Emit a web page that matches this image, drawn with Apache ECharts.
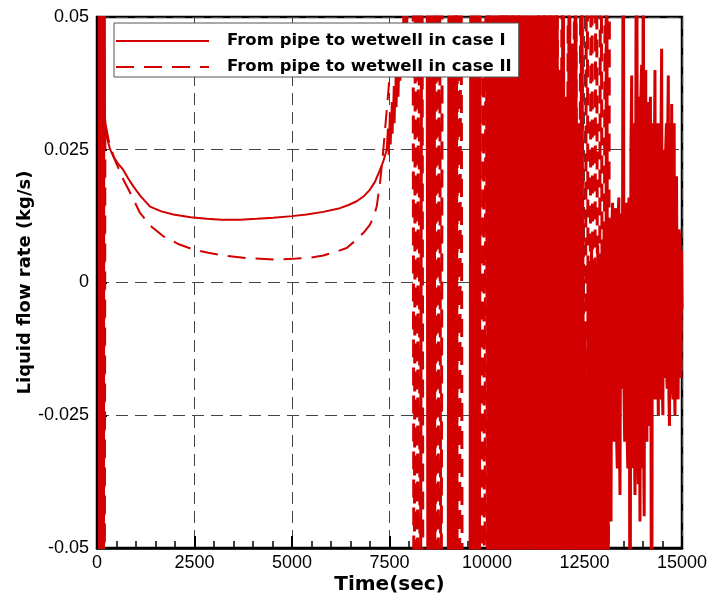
<!DOCTYPE html>
<html><head><meta charset="utf-8">
<script src="https://cdn.jsdelivr.net/npm/echarts@6/dist/echarts.min.js"></script>
<style>html,body{margin:0;padding:0;background:#fff}#c{width:711px;height:600px}</style>
</head><body><div id="c"></div>
<script>
// ---- data (time in s, liquid flow rate in kg/s) ----
const nameI = 'From pipe to wetwell in case I';
const nameII = 'From pipe to wetwell in case II';

const caseI_start = [[40,0.1],[55,-0.1],[70,0.1],[85,-0.1],[100,0.1],[115,-0.1],[130,0.1],[145,-0.1],[160,0.1],[175,-0.1],[190,0.1]];
const caseI_curve = [[190,0.1],[205,0.031],[248,0.0275],[330,0.0252],[419,0.0237],[540,0.0224],[675,0.0212],[800,0.0196],[932,0.0181],[1100,0.0164],[1360,0.0143],[1650,0.0134],[1957,0.0128],[2400,0.0123],[2812,0.012],[3200,0.0118],[3667,0.0118],[4100,0.012],[4520,0.0122],[5000,0.0125],[5376,0.0128],[5800,0.0133],[6230,0.014],[6450,0.0146],[6658,0.0153],[6850,0.0163],[7000,0.0175],[7130,0.019],[7256,0.0212],[7340,0.0228],[7428,0.025],[7460,0.029],[7480,0.024],[7510,0.032],[7530,0.026],[7560,0.034],[7580,0.028],[7610,0.037],[7630,0.030],[7660,0.039],[7680,0.033],[7710,0.042],[7730,0.035],[7760,0.045],[7780,0.038],[7810,0.048],[7830,0.041],[7860,0.052],[7880,0.044],[7920,0.056],[7950,0.048],[8000,0.06],[8100,0.1]];
const caseI_burst = [[8100,0.1],[8460,0.1],
[8490,-0.1],[8520,0.1],[8550,-0.1],[8580,0.1],[8610,-0.1],[8640,0.1],[8670,-0.1],[9000,-0.1],
[9030,0.1],[9060,-0.1],[9090,0.1],[9120,-0.1],[9150,0.1],[9180,-0.1],[9210,0.1],[9240,-0.1],[9560,-0.1],
[9590,0.1],[9620,-0.1],[9650,0.1],[9680,-0.1],[9710,0.1],[9740,-0.1],[9770,0.1],[9800,-0.1],[9830,0.1],[10030,0.1],
[10070,-0.1],[10110,0.1],[10150,-0.1],[10190,0.1],[10230,-0.1],[10270,0.1],[10310,-0.1],[10350,0.1],[10390,-0.1],[10430,0.1],
[10470,-0.1],[10510,0.1],[10550,-0.1],[10590,0.1],[10630,-0.1],[10670,0.1],[10710,-0.1],[10750,0.1],[10790,-0.1],[10830,0.1],
[10870,-0.1],[10910,0.1],[10950,-0.1],[10990,0.1],[11030,-0.1],[11070,0.1],[11110,-0.1],[11150,0.1],[11190,-0.1],[11230,0.1],
[11270,-0.1],[11310,0.1],[11350,-0.1],[11390,0.1],[11430,-0.1],[11470,0.1],[11510,-0.1],[11550,0.1],[11590,-0.1],[11630,0.1],
[11670,-0.1],[11710,0.1],[11750,-0.1],[11790,0.1],[11830,-0.1],[11870,0.04],[11910,-0.1],[11950,0.1],[11990,-0.1],[12030,0.035],
[12070,-0.1],[12110,0.1],[12150,-0.1],[12190,0.045],[12230,-0.1],[12270,0.1],[12310,-0.1],[12350,0.03],[12390,-0.1],[12430,0.1],
[12470,-0.1],[12510,-0.01],[12560,-0.1],[12600,0.004],[12640,-0.1],[12680,0.008],[12720,-0.08],[12760,0.002],[12800,-0.1],[12840,0.007],
[12880,-0.06],[12920,0.005],[12960,-0.1],[13000,0.01],[13040,-0.1],[13068,0.1],[13100,-0.1],[13120,0.006],[13140,0.012],[13160,-0.03],[13180,-0.045],[13200,0.01],[13220,0.015],
[13240,-0.025],[13260,-0.03],[13280,0.01],[13300,0.014],[13320,-0.028],[13340,-0.035],[13360,0.012],[13380,0.016],[13395,-0.03],[13410,-0.04],[13430,0.01],[13450,0.013],[13470,-0.02],[13495,0.1],[13512,-0.02],[13530,-0.03],[13550,0.012],[13570,0.015],[13590,-0.028],[13610,-0.035],
[13625,0.012],[13640,0.016],[13655,-0.03],[13667,-0.1],[13690,0.025],[13710,0.039],[13720,-0.03],[13730,0.02],[13740,-0.035],[13752,0.03],[13770,-0.025],[13795,-0.04],[13815,0.03],[13838,0.1],[13860,-0.03],[13880,-0.038],[13890,0.03],[13900,0.035],[13912,-0.03],[13923,-0.045],
[13945,0.035],[13966,0.041],[13978,-0.025],[13990,-0.035],[14000,0.035],[14008,0.1],[14020,-0.035],[14030,-0.044],[14050,0.03],[14070,0.04],[14085,-0.025],[14100,-0.03],[14118,0.03],[14136,0.034],[14148,-0.025],[14160,-0.027],[14175,0.028],[14190,0.035],[14205,-0.025],[14222,-0.1],
[14243,0.03],[14264,0.02],[14277,-0.02],[14290,-0.022],[14298,0.03],[14307,0.04],[14323,-0.02],[14340,-0.022],[14355,0.028],[14370,0.03],[14382,-0.018],[14393,-0.025],[14407,0.025],[14420,0.03],[14435,-0.02],[14450,-0.022],[14464,0.03],[14478,0.044],[14494,-0.02],[14510,-0.025],
[14525,0.025],[14540,0.02],[14552,-0.018],[14564,-0.012],[14582,0.025],[14600,0.03],[14610,-0.018],[14620,-0.02],[14635,0.03],[14649,0.039],[14665,-0.022],[14680,-0.027],[14695,0.025],[14710,0.03],[14722,-0.018],[14735,0.0336],[14752,-0.02],[14770,-0.022],[14785,0.022],[14800,0.03],
[14810,-0.02],[14820,-0.025],[14840,0.015],[14860,0.02],[14880,-0.02],[14900,-0.022],[14925,0.01],[14948,0.008],[14960,-0.015],[14970,-0.018],[14985,0.006],[15000,-0.005]];

const caseII_start = [[45,-0.1],[60,0.1],[75,-0.1],[90,0.1],[105,-0.1],[120,0.1],[135,-0.1],[150,0.1],[165,-0.1],[180,0.1],[195,-0.1]];
const caseII_curve = [[195,-0.1],[215,0.030],[300,0.0268],[450,0.0232],[675,0.0194],[850,0.0169],[1103,0.0131],[1400,0.0105],[1700,0.0087],[2100,0.0072],[2470,0.0062],[2850,0.0056],[3240,0.0051],[3838,0.0046],[4607,0.0043],[5120,0.0045],[5500,0.0047],[5803,0.0051],[6100,0.0057],[6402,0.0065],[6658,0.0081],[6850,0.0095],[7000,0.0109],[7100,0.0125],[7171,0.0143],[7256,0.0187],[7330,0.024],[7400,0.030],[7470,0.036],[7540,0.042],[7620,0.050],[7700,0.07],[8100,0.1]];
const caseII_burst = [[8100,0.1],[8130,-0.1],[8170,0.1],[8210,-0.1],[8250,0.1],[8290,-0.1],[8330,0.1],[8360,-0.1],[8670,-0.1],
[8700,0.1],[8740,-0.1],[8780,0.1],[8820,-0.1],[8860,0.1],[9180,0.1],[9210,-0.1],[9250,0.1],[9290,-0.1],[9330,0.1],[9370,-0.1],[9870,-0.1],
[9900,0.1],[9940,-0.1],[9980,0.1],[10020,-0.1],[10060,0.1],[10260,0.1],[10300,-0.1],[10340,0.1],[10380,-0.1],[10420,0.1],[10460,-0.1],[10500,0.1],
[10580,-0.1],[10660,0.1],[10740,-0.1],[10820,0.1],[10900,-0.1],[10980,0.1],[11060,-0.1],[11140,0.1],[11220,-0.1],[11300,0.1],[11380,-0.1],
[11460,0.1],[11540,-0.1],[11620,0.1],[11700,-0.1],[11780,0.1],[11860,-0.1],[11940,0.1],[12020,-0.1],[12100,0.1],[12180,-0.1],[12260,0.1],
[12340,-0.1],[12420,0.1],[12500,-0.1],[12560,0.1],[12620,-0.1],[12680,0.1],[12740,-0.1],[12800,0.1],[12860,-0.1],[12920,0.1],[12980,-0.1],
[13040,0.1],[13100,-0.1],[13150,0.1]];

const xMin = 0, xMax = 15000, xStep = 2500;
const yMin = -0.05, yMax = 0.05, yStep = 0.025;

// ---- chart ----
const RED = '#d20000';
const chart = echarts.init(document.getElementById('c'), null, {renderer: 'canvas'});
const gridLine = {show: true, lineStyle: {color: '#444', width: 1, type: [12, 7]}};
const base = {type: 'line', symbol: 'none', showSymbol: false, clip: true, itemStyle: {color: RED}};
chart.setOption({
  animation: false,
  backgroundColor: '#fff',
  grid: {left: 97, right: 29, top: 17, bottom: 52, show: true, borderColor: '#000', borderWidth: 2.5, backgroundColor: 'transparent'},
  xAxis: {
    type: 'value', min: xMin, max: xMax, interval: xStep,
    name: 'Time(sec)', nameLocation: 'middle', nameGap: 27, nameMoveOverlap: false,
    nameTextStyle: {fontFamily: 'DejaVu Sans', fontWeight: 'bold', fontSize: 20, color: '#000'},
    axisLine: {onZero: false, lineStyle: {color: '#000', width: 2.5}},
    axisTick: {inside: true, length: 12, lineStyle: {color: '#000', width: 2}},
    minorTick: {show: true, splitNumber: 5, length: 7, lineStyle: {color: '#000', width: 1.5}},
    axisLabel: {fontFamily: 'Liberation Sans', fontSize: 18, color: '#000', margin: 6, formatter: v => String(v)},
    splitLine: gridLine
  },
  yAxis: {
    type: 'value', min: yMin, max: yMax, interval: yStep,
    name: 'Liquid flow rate (kg/s)', nameLocation: 'middle', nameGap: 63, nameMoveOverlap: false,
    nameTextStyle: {fontFamily: 'DejaVu Sans', fontWeight: 'bold', fontSize: 18, color: '#000'},
    axisLine: {onZero: false, lineStyle: {color: '#000', width: 2.5}},
    axisTick: {inside: true, length: 10, lineStyle: {color: '#000', width: 2}},
    minorTick: {show: true, splitNumber: 5, length: 6, lineStyle: {color: '#000', width: 1.5}},
    axisLabel: {fontFamily: 'Liberation Sans', fontSize: 18, color: '#000', margin: 8},
    splitLine: gridLine
  },
  legend: {
    left: 114, top: 23, orient: 'vertical', data: [nameI, nameII],
    itemWidth: 93, itemHeight: 14, itemGap: 6, padding: [8, 7, 0, 1],
    backgroundColor: '#fff', borderColor: '#555', borderWidth: 1, z: 10,
    itemStyle: {opacity: 0},
    textStyle: {fontFamily: 'DejaVu Sans', fontWeight: 'bold', fontSize: 16.5, color: '#000', lineHeight: 20, padding: [0, 0, 0, 13]}
  },
  series: [
    Object.assign({name: nameII, data: caseII_start.concat(caseII_curve), lineStyle: {color: RED, width: 2, type: [18, 10]}}, base),
    Object.assign({name: nameII, data: caseII_burst, lineStyle: {color: RED, width: 3, type: [18, 10]}}, base),
    Object.assign({name: nameI, data: caseI_start.concat(caseI_curve), lineStyle: {color: RED, width: 2}}, base),
    Object.assign({name: nameI, data: caseI_burst, lineStyle: {color: RED, width: 3}}, base)
  ]
});
</script></body></html>
